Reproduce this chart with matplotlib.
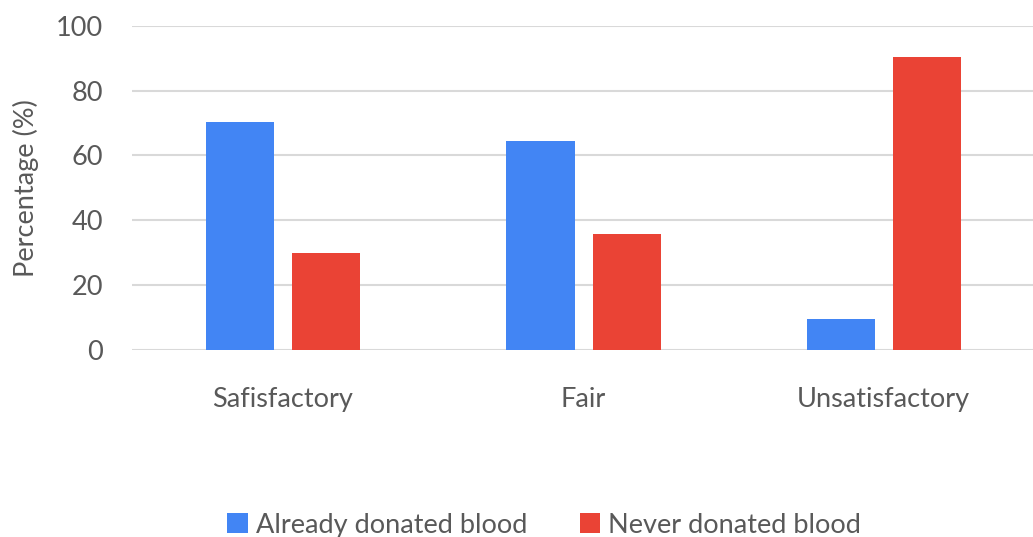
import matplotlib.pyplot as plt
import numpy as np

# === Data ===
categories = ['Safisfactory', 'Fair', 'Unsatisfactory']
already_donated = [70.2, 64.3, 9.5]
never_donated = [29.8, 35.7, 90.5]
y_ticks = [0, 20, 40, 60, 80, 100]

plt.rcParams['font.family'] = ['Lato', 'DejaVu Sans']
text_color = '#595959'
fs = 19.5

fig = plt.figure(figsize=(10.33, 5.37), dpi=100)
ax = fig.add_axes([0.128, 0.349, 0.873, 0.603])

x = np.arange(len(categories))
w = 0.227
ax.bar(x - 0.142, already_donated, w, color='#4285F4', label='Already donated blood', zorder=3)
ax.bar(x + 0.145, never_donated, w, color='#EA4335', label='Never donated blood', zorder=3)

ax.set_xlim(-0.5, 2.5)
ax.set_ylim(0, 100)
ax.set_yticks(y_ticks)
ax.set_xticks(x)
ax.set_xticklabels(categories)
ax.grid(axis='y', color='#d9d9d9', linewidth=1.5, zorder=0)
ax.set_axisbelow(True)
for s in ax.spines.values():
    s.set_visible(False)
ax.tick_params(length=0, colors=text_color, labelsize=fs)
ax.tick_params(axis='x', pad=27)
ax.tick_params(axis='y', pad=21)
ax.set_ylabel('Percentage (%)', fontsize=fs, color=text_color, labelpad=12)

fig.legend(loc='lower center', bbox_to_anchor=(0.527, -0.047), ncol=2, frameon=False,
           fontsize=fs, labelcolor=text_color, handlelength=0.75, handleheight=0.75,
           handletextpad=0.3, columnspacing=1.95)

fig.savefig('out.png', dpi=100)
